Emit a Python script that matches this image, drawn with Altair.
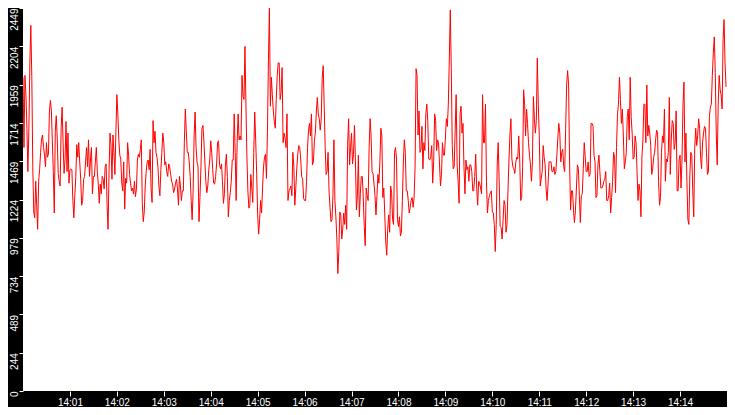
import altair as alt
import pandas as pd

# Sampled every 1.25 s, 14:00:00 -> 14:14:58.75
values_1400_1405 = [
    2006, 1557, 2018, 1895, 1680, 1403, 1661, 2092, 2338, 2012,
    1434, 1145, 1108, 1341, 1188, 1034, 1341, 1415, 1526, 1612,
    1637, 1557, 1508, 1434, 1588, 1495, 1514, 1784, 1858, 1797,
    1600, 1403, 1138, 1661, 1760, 1618, 1391, 1341, 1311, 1680,
    1815, 1588, 1391, 1477, 1723, 1403, 1649, 1329, 1415, 1421,
    1415, 1218, 1108, 1249, 1372, 1575, 1495, 1588, 1465, 1354,
    1188, 1218, 1354, 1372, 1465, 1557, 1434, 1606, 1372, 1477,
    1557, 1261, 1372, 1372, 1465, 1557, 1403, 1323, 1200, 1323,
    1261, 1372, 1354, 1292, 1434, 1452, 1188, 1034, 1403, 1649,
    1569, 1354, 1637, 1526, 1385, 1649, 1895, 1772, 1606, 1508,
    1483, 1329, 1280, 1465, 1163, 1360, 1329, 1588, 1508, 1385,
    1329, 1280, 1298, 1261, 1341, 1243, 1292, 1477, 1514, 1495,
    1545, 1606, 1200, 1083, 1145, 1311, 1403, 1465, 1477, 1415,
    1545, 1292, 1206, 1729, 1588, 1661, 1526, 1495, 1434, 1311,
    1249, 1415, 1526, 1649, 1588, 1446, 1465, 1403, 1372, 1452,
    1434, 1385, 1341, 1323, 1268, 1292, 1329, 1354, 1292, 1188,
    1372, 1311, 1218, 1280, 1280, 1588, 1803, 1661, 1526, 1526,
    1465, 1372, 1218, 1095, 1280, 1631, 1784, 1557, 1465, 1434,
    1083, 1237, 1434, 1680, 1698, 1600, 1465, 1341, 1268, 1311,
    1415, 1477, 1600, 1526, 1415, 1329, 1323, 1372, 1452, 1588,
    1600, 1446, 1421, 1452, 1341, 1200, 1261, 1446, 1514, 1372,
    1114, 1218, 1268, 1341, 1477, 1477, 1772, 1526, 1218, 1588,
    1772, 1606, 1631, 1606, 2018, 1883, 1864, 2203, 1834, 1495,
    1280, 1169, 1188, 1385, 1298, 1206, 1526, 1784, 1600, 1385,
]
values_1405_1410 = [
    1126, 1003, 1095, 1218, 1138, 1298, 1434, 1495, 1514, 1360,
    1661, 2111, 2449, 1821, 2006, 1895, 1791, 1723, 1680, 1864,
    2018, 2098, 2098, 1864, 1908, 2068, 1588, 1649, 1618, 1557,
    1772, 1218, 1280, 1292, 1311, 1249, 1526, 1434, 1188, 1298,
    1421, 1514, 1569, 1557, 1483, 1372, 1354, 1231, 1218, 1218,
    1341, 1557, 1661, 1711, 1631, 1772, 1446, 1465, 1600, 1649,
    1784, 1877, 1772, 1741, 1668, 1741, 2000, 2080, 1834, 1569,
    1385, 1403, 1526, 1280, 1175, 1083, 1095, 1249, 1606, 1218,
    1114, 972, 751, 892, 1145, 1126, 972, 1034, 1138, 1065,
    1188, 1034, 1569, 1741, 1446, 1557, 1649, 1452, 1514, 1698,
    1465, 1157, 1249, 1508, 1114, 1261, 1372, 1372, 1237, 1052,
    929, 1298, 1249, 1218, 1557, 1741, 1631, 1403, 1391, 1323,
    1249, 1126, 1249, 1385, 1329, 1465, 1680, 1631, 1237, 1298,
    1126, 954, 868, 1034, 1126, 1015, 1311, 1268, 1095, 1065,
    1526, 1557, 1483, 1095, 1052, 1114, 991, 1015, 1218, 1465,
    1606, 1526, 1280, 1280, 1218, 1138, 1175, 1218, 1237, 1175,
    1237, 1434, 2061, 2018, 1637, 1791, 1526, 1545, 1692, 1421,
    1588, 1538, 1772, 1834, 1723, 1483, 1477, 1495, 1569, 1329,
    1465, 1772, 1729, 1538, 1606, 1588, 1446, 1311, 1385, 1588,
    1508, 1508, 1618, 1741, 1692, 1834, 2123, 2437, 2061, 1569,
    1421, 1434, 1668, 1895, 1446, 1341, 1200, 1772, 1821, 1649,
    1711, 1434, 1261, 1477, 1415, 1434, 1341, 1446, 1446, 1403,
    1280, 1280, 1372, 1514, 1298, 1188, 1341, 1329, 1298, 1261,
    1895, 1588, 1588, 1834, 1341, 1138, 1218, 1249, 1268, 1280,
]
values_1410_1415 = [
    1145, 1138, 1065, 892, 1065, 1452, 1588, 1341, 1052, 1046,
    972, 1095, 1218, 1188, 1015, 1065, 1280, 1477, 1637, 1741,
    1483, 1434, 1421, 1391, 1465, 1495, 1483, 1631, 1483, 1218,
    1237, 1434, 1926, 1834, 1631, 1803, 1711, 1588, 1508, 1446,
    1341, 1465, 1883, 1741, 1649, 1729, 2129, 1834, 1631, 1311,
    1360, 1403, 1569, 1495, 1446, 1292, 1218, 1323, 1465, 1465,
    1465, 1403, 1403, 1434, 1385, 1403, 1508, 1618, 1711, 1649,
    1465, 1526, 1545, 1434, 1403, 1680, 1957, 2049, 1957, 1465,
    1157, 1280, 1280, 1157, 1077, 1157, 1298, 1446, 1421, 1249,
    1077, 1249, 1261, 1421, 1588, 1495, 1403, 1403, 1465, 1372,
    1385, 1711, 1711, 1692, 1508, 1465, 1237, 1249, 1446, 1508,
    1403, 1298, 1298, 1311, 1341, 1354, 1403, 1218, 1218, 1249,
    1329, 1138, 1237, 1341, 1526, 1495, 1268, 1557, 1772, 1834,
    2006, 1864, 1711, 1803, 1631, 1421, 1465, 1526, 1754, 1803,
    1606, 2006, 1754, 1649, 1483, 1495, 1631, 1588, 1403, 1218,
    1323, 1280, 1114, 1495, 1606, 1834, 1834, 1588, 1957, 1631,
    1698, 1649, 1569, 1385, 1421, 1495, 1526, 1606, 1668, 1649,
    1341, 1188, 1237, 1526, 1631, 1588, 1803, 1341, 1483, 1465,
    1526, 1877, 1385, 1606, 1729, 1711, 1545, 1588, 1791, 1280,
    1280, 1477, 1508, 1298, 1483, 1834, 1975, 1465, 1649, 1341,
    1095, 1065, 1385, 1526, 1508, 1280, 1114, 1557, 1680, 1569,
    1631, 1741, 1680, 1495, 1421, 1588, 1649, 1692, 1680, 1526,
    1385, 1403, 1754, 1815, 1834, 2018, 2160, 2264, 2037, 1649,
    1446, 1834, 2018, 1926, 1895, 1803, 2246, 2375, 2098, 1944,
]

y_tick_values = [0, 244.9, 489.8, 734.7, 979.6, 1224.5, 1469.4, 1714.3, 1959.2, 2204.1, 2449]
x_tick_labels = ["14:01", "14:02", "14:03", "14:04", "14:05", "14:06", "14:07",
                 "14:08", "14:09", "14:10", "14:11", "14:12", "14:13", "14:14"]

values = values_1400_1405 + values_1405_1410 + values_1410_1415
start = pd.Timestamp("2024-01-01 14:00:00")
times = [start + pd.Timedelta(milliseconds=1250 * i) for i in range(len(values))]
time_str = [t.strftime("%Y-%m-%dT%H:%M:%S") + ".%03d" % (t.microsecond // 1000) for t in times]
df = pd.DataFrame({"time": time_str, "value": values})

def dt(h, m):
    return alt.DateTime(year=2024, month=1, date=1, hours=h, minutes=m)

x_ticks = [dt(int(s.split(":")[0]), int(s.split(":")[1])) for s in x_tick_labels]

chart = alt.Chart(df).mark_line(color="#ff0000", strokeWidth=1, clip=True).encode(
    x=alt.X(
        "time:T",
        scale=alt.Scale(domain=[dt(14, 0), dt(14, 15)], nice=False),
        axis=alt.Axis(values=x_ticks, format="%H:%M", title=None, tickSize=5,
                      labelPadding=1, labelAlign="center", labelBaseline="top"),
    ),
    y=alt.Y(
        "value:Q",
        scale=alt.Scale(domain=[0, 2449], nice=False, zero=True),
        axis=alt.Axis(values=y_tick_values, labelExpr="'' + floor(datum.value)", title=None,
                      tickSize=4, labelPadding=0, labelAngle=270, labelAlign="right",
                      labelBaseline="bottom"),
    ),
).properties(
    width=704,
    height=383,
    autosize=alt.AutoSizeParams(type="none"),
    padding={"left": 15, "top": 0, "right": 0, "bottom": 16},
    background="black",
).configure_view(
    fill="white", strokeWidth=0
).configure_axis(
    domain=False, grid=False, tickColor="white", tickWidth=1, labelColor="white",
    labelFont="Liberation Sans", labelFontSize=10, labelFlush=False, labelOverlap=False,
)

chart.save("out.html", embed_options={"renderer": "svg", "actions": False})
